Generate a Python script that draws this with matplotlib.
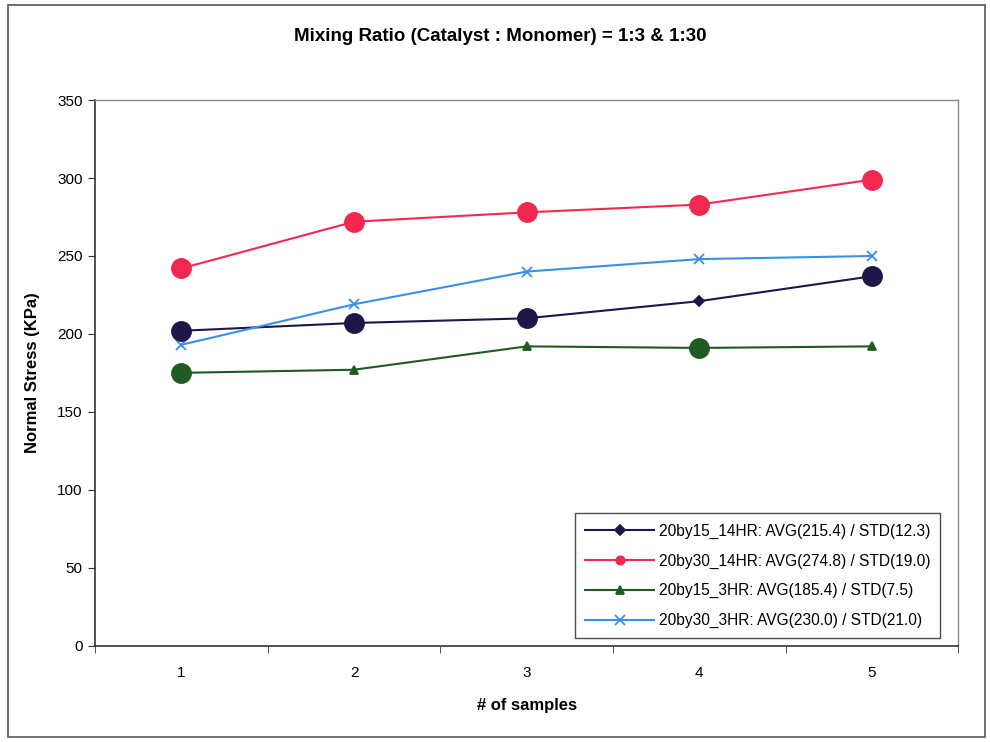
import matplotlib
matplotlib.use("Agg")
import matplotlib.pyplot as plt
from matplotlib.patches import Rectangle

plt.rcParams['font.family'] = ['Liberation Sans', 'DejaVu Sans']

samples = [1, 2, 3, 4, 5]

s15_14 = [202, 207, 210, 221, 237]
s30_14 = [242, 272, 278, 283, 299]
s15_3 = [175, 177, 192, 191, 192]
s30_3 = [193, 219, 240, 248, 250]

labels = [
    "20by15_14HR: AVG(215.4) / STD(12.3)",
    "20by30_14HR: AVG(274.8) / STD(19.0)",
    "20by15_3HR: AVG(185.4) / STD(7.5)",
    "20by30_3HR: AVG(230.0) / STD(21.0)",
]

# points drawn with an enlarged round marker
big_15_14 = [0, 1, 2, 4]
big_30_14 = [0, 1, 2, 3, 4]
big_15_3 = [0, 3]

navy = "#1c1848"
red = "#f3284f"
green = "#1f5a22"
blue = "#3a8fea"

fig = plt.figure(figsize=(9.9, 7.42), dpi=100)
ax = fig.add_axes([0.096, 0.130, 0.872, 0.735])

series = [
    (s15_14, navy, "D", 5, big_15_14),
    (s30_14, red, "o", 6, big_30_14),
    (s15_3, green, "^", 6, big_15_3),
    (s30_3, blue, "x", 7, []),
]

for (vals, col, mk, ms, big), lab in zip(series, labels):
    ax.plot(samples, vals, color=col, lw=1.5, marker=mk, ms=ms,
            mew=1.3, label=lab, zorder=3)
    if big:
        ax.plot([samples[i] for i in big], [vals[i] for i in big],
                ls="none", marker="o", ms=14, color=col, zorder=4)

ax.set_xlim(0.5, 5.5)
ax.set_ylim(0, 350)
ax.set_yticks(range(0, 351, 50))
ax.set_xticks(samples)
ax.set_xticks([0.5, 1.5, 2.5, 3.5, 4.5, 5.5], minor=True)
ax.tick_params(axis="x", which="major", length=0, pad=15, labelsize=11)
ax.tick_params(axis="x", which="minor", length=5, direction="out", color="#333333")
ax.tick_params(axis="y", length=5, direction="out", labelsize=11, pad=4, color="#333333")

for side in ("left", "bottom"):
    ax.spines[side].set_color("#333333")
    ax.spines[side].set_linewidth(1.2)
for side in ("top", "right"):
    ax.spines[side].set_color("#888888")
    ax.spines[side].set_linewidth(1.0)

ax.set_xlabel("# of samples", fontsize=12, fontweight="bold", labelpad=13)
ax.set_ylabel("Normal Stress (KPa)", fontsize=12, fontweight="bold", labelpad=12)
fig.text(0.505, 0.951, "Mixing Ratio (Catalyst : Monomer) = 1:3 & 1:30",
         ha="center", va="center", fontsize=13.5, fontweight="bold")

leg = ax.legend(loc="lower right", bbox_to_anchor=(0.979, 0.013), borderaxespad=0,
                fontsize=11.2, frameon=True, fancybox=False, edgecolor="#222222",
                handlelength=4.4, handletextpad=0.3, borderpad=0.65,
                labelspacing=0.95)
leg.get_frame().set_linewidth(1.0)

fig.patches.append(Rectangle((0.008, 0.007), 0.987, 0.986, transform=fig.transFigure,
                             fill=False, edgecolor="#555555", lw=1.2))

fig.savefig("out.png", dpi=100)
